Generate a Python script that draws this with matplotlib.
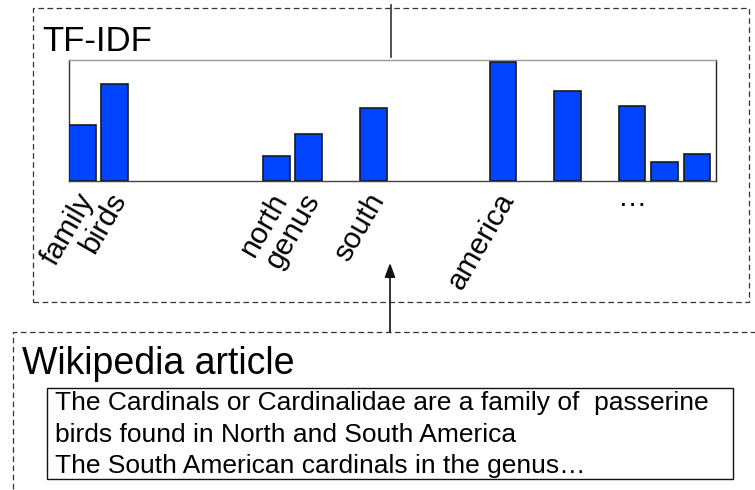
import matplotlib
matplotlib.use("Agg")
import matplotlib.pyplot as plt
from matplotlib.patches import Rectangle, FancyArrowPatch
from matplotlib.lines import Line2D
import matplotlib.transforms as mtransforms

plt.rcParams['font.family'] = ['Liberation Sans', 'DejaVu Sans']

# ---- data ----
bar_slots = [0, 1, 6, 7, 9, 13, 15, 17, 18, 19]
tfidf_scores = [0.46, 0.80, 0.21, 0.385, 0.60, 0.98, 0.745, 0.62, 0.155, 0.22]
label_slots = [0, 1, 6, 7, 9, 13]
term_labels = ["family", "birds", "north", "genus", "south", "america"]
ellipsis_slot = 17
ellipsis_label = "\u2026"
chart_title = "TF-IDF"
doc_title = "Wikipedia article"
doc_lines = [
    "The Cardinals or Cardinalidae are a family of  passerine",
    "birds found in North and South America",
    "The South American cardinals in the genus\u2026",
]

W, H = 755, 490
fig = plt.figure(figsize=(W / 100, H / 100), dpi=100)

def fx(x):
    return x / W

def fy(y):
    return 1 - y / H

# ---- bar chart axes ----
ax_l, ax_r, ax_t, ax_b = 69, 716, 60, 181
ax = fig.add_axes([fx(ax_l), fy(ax_b), (ax_r - ax_l) / W, (ax_b - ax_t) / H])
bw = 0.82
ax.bar(bar_slots, tfidf_scores, width=bw, align='edge', color='#0044ff',
       edgecolor='#1a1a1a', linewidth=1.2, zorder=3)
ax.set_xlim(0, 20)
ax.set_ylim(0, 1)
ax.set_yticks([])
ax.set_xticks([s + bw / 2 for s in label_slots])
ax.set_xticklabels(term_labels, rotation=60, ha='right', va='center',
                   rotation_mode='anchor', fontsize=21.5)
ax.tick_params(axis='x', length=0, pad=10)
shift = mtransforms.ScaledTranslation(5 / 100, 0, fig.dpi_scale_trans)
for lab in ax.get_xticklabels():
    lab.set_transform(lab.get_transform() + shift)
ax.spines['left'].set_color('#333333')
ax.spines['right'].set_color('#222222')
ax.spines['bottom'].set_color('#444444')
ax.spines['top'].set_color('#999999')
for s in ax.spines.values():
    s.set_linewidth(1.0)

trans = mtransforms.offset_copy(
    mtransforms.blended_transform_factory(ax.transData, ax.transAxes),
    fig=fig, x=0, y=-25, units='dots')
ax.text(ellipsis_slot + bw / 2, 0, ellipsis_label, transform=trans,
        ha='center', va='baseline', fontsize=21)

# ---- titles ----
fig.text(fx(42), fy(51), chart_title, fontsize=25, ha='left', va='baseline')
fig.text(fx(22), fy(374), doc_title, fontsize=27, ha='left', va='baseline')
for yb, line in zip([410, 442, 473], doc_lines):
    fig.text(fx(55), fy(yb), line, fontsize=19, ha='left', va='baseline')

# ---- boxes ----
dash = (0, (4.5, 2.8))
fig.add_artist(Rectangle((fx(33), fy(302)), (749 - 33) / W, (302 - 8) / H,
                         transform=fig.transFigure, fill=False,
                         edgecolor='#333333', linewidth=0.9, linestyle=dash))
fig.add_artist(Rectangle((fx(13), fy(520)), (780 - 13) / W, (520 - 332) / H,
                         transform=fig.transFigure, fill=False,
                         edgecolor='#333333', linewidth=0.9, linestyle=dash))
fig.add_artist(Rectangle((fx(47), fy(479)), (733 - 47) / W, (479 - 388) / H,
                         transform=fig.transFigure, fill=False,
                         edgecolor='#111111', linewidth=1.0))

# ---- connectors ----
fig.add_artist(Line2D([fx(391), fx(391)], [fy(5), fy(57)],
                      transform=fig.transFigure, color='#333333', linewidth=1.2))
fig.add_artist(FancyArrowPatch((fx(390), fy(332)), (fx(390), fy(263)),
                               transform=fig.transFigure,
                               arrowstyle='-|>,head_length=8.5,head_width=3.2',
                               mutation_scale=1, shrinkA=0, shrinkB=0,
                               color='#111111', linewidth=1.2))

fig.savefig("out.png", dpi=100)
